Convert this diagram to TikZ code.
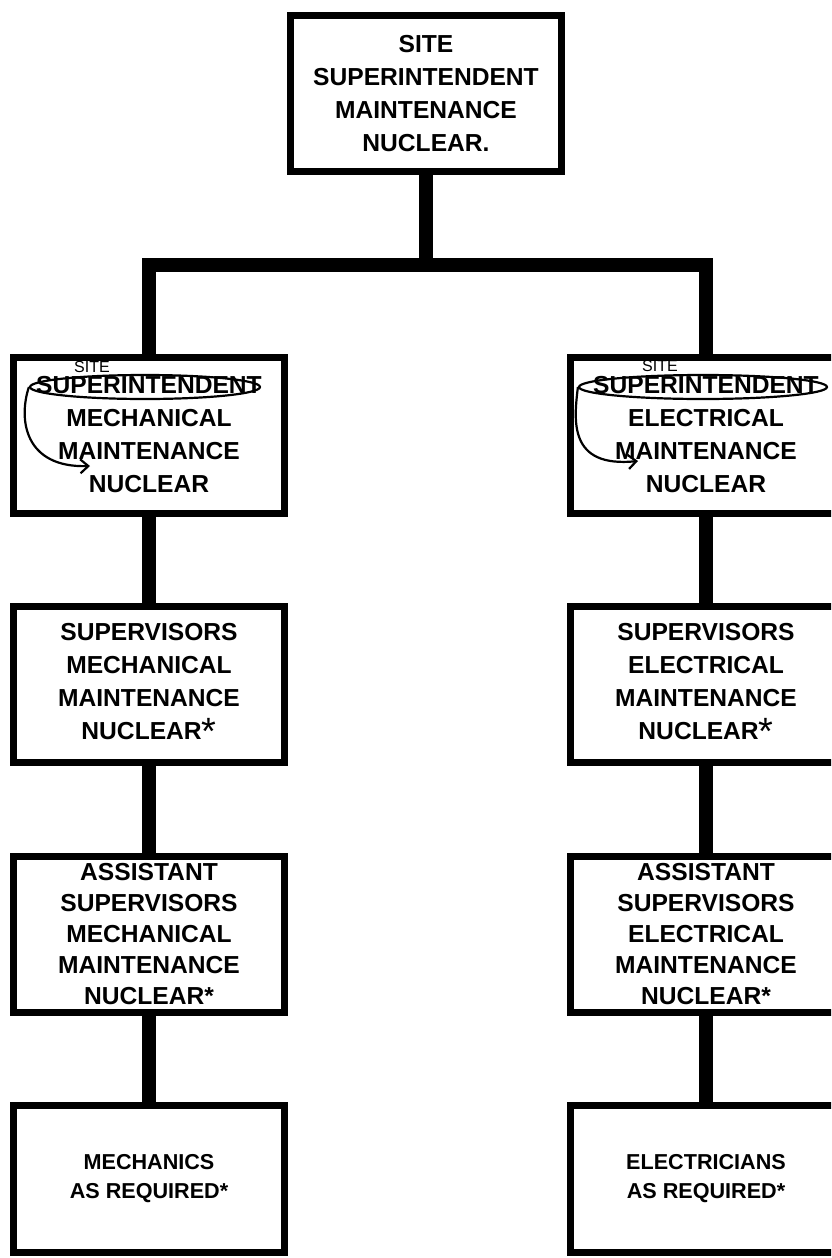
\documentclass[tikz,border=0pt]{standalone}
\usepackage{fontspec}
\setmainfont{Liberation Sans}
\usetikzlibrary{arrows.meta, shapes.geometric}
\tikzset{
	orgbox/.style={rectangle, draw=black, line width=3.5pt, minimum width=135.5pt, minimum height=78pt, inner sep=0pt, align=center, font=\bfseries\fontsize{12.3}{16.5}\selectfont},
	tallbox/.style={orgbox, font=\bfseries\fontsize{12.3}{15.6}\selectfont},
	crewbox/.style={orgbox, minimum height=73.5pt, font=\bfseries\fontsize{10.8}{14.5}\selectfont},
	trunk/.style={line width=7pt},
	handring/.style={ellipse, draw=black, line width=1.1pt, minimum height=12pt, inner sep=0pt},
	handpen/.style={line width=1.1pt, -{Straight Barb[length=4pt, width=7pt]}},
	handnote/.style={font=\fontsize{8}{8}\selectfont, inner sep=0pt}
}
\newcommand{\handstar}{{\mdseries\fontsize{19}{19}\selectfont\raisebox{-2.5pt}{*}}}

\begin{document}
\begin{tikzpicture}[x=0.5pt, y=-0.5pt]
		\clip (0,0) rectangle (831,1258);
		\node[orgbox] at (426,93.5) (site)    {SITE\\SUPERINTENDENT\\MAINTENANCE\\NUCLEAR.};
		\node[orgbox] at (149,435) (mechsup)    {SUPERINTENDENT\\MECHANICAL\\MAINTENANCE\\NUCLEAR};
		\node[orgbox] at (706,435) (elecsup)    {SUPERINTENDENT\\ELECTRICAL\\MAINTENANCE\\NUCLEAR};
		\node[orgbox] at (149,684) (mechsv)    {SUPERVISORS\\MECHANICAL\\MAINTENANCE\\NUCLEAR\handstar};
		\node[orgbox] at (706,684) (elecsv)    {SUPERVISORS\\ELECTRICAL\\MAINTENANCE\\NUCLEAR\handstar};
		\node[tallbox] at (149,934) (mechasst)    {ASSISTANT\\SUPERVISORS\\MECHANICAL\\MAINTENANCE\\NUCLEAR*};
		\node[tallbox] at (706,934) (elecasst)    {ASSISTANT\\SUPERVISORS\\ELECTRICAL\\MAINTENANCE\\NUCLEAR*};
		\node[crewbox] at (149,1179) (mechcrew)    {MECHANICS\\AS REQUIRED*};
		\node[crewbox] at (706,1179) (eleccrew)    {ELECTRICIANS\\AS REQUIRED*};
		\coordinate (bar) at (426,265);
		
		%Hand notes
		\node[handring, minimum width=115pt] at (145,387) (mechring) {};
		\node[handring, minimum width=124pt] at (703,387) (elecring) {};
		\node[handnote] at (92,366.5) (mechsite) {SITE};
		\node[handnote] at (660,366) (elecsite) {SITE};
		\coordinate (mechtip) at (90,466);
		\coordinate (electip) at (638,461);
		\draw[handpen] (mechring.west) .. controls (18,420) and (25,468) .. (mechtip);
		\draw[handpen] (elecring.west) .. controls (574,420) and (568,468) .. (electip);
		
		%Lines
		\draw[trunk] (site.south) -- (site.south |- bar);
		\draw[trunk] (mechsup.north) -- (mechsup.north |- bar) -- (elecsup.north |- bar) -- (elecsup.north);
		\draw[trunk] (mechsup.south) -- (mechsv.north);
		\draw[trunk] (mechsv.south) -- (mechasst.north);
		\draw[trunk] (mechasst.south) -- (mechcrew.north);
		\draw[trunk] (elecsup.south) -- (elecsv.north);
		\draw[trunk] (elecsv.south) -- (elecasst.north);
		\draw[trunk] (elecasst.south) -- (eleccrew.north);
	\end{tikzpicture}
\end{document}
